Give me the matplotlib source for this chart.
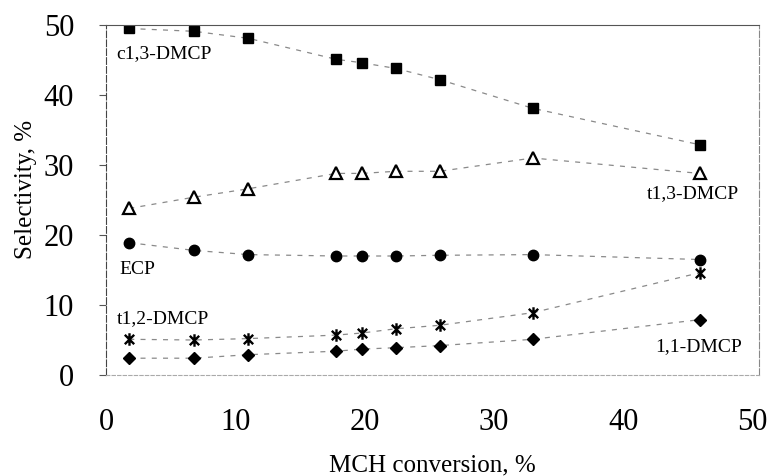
import numpy as np
import matplotlib
matplotlib.use("Agg")
import matplotlib.pyplot as plt
from matplotlib.path import Path

plt.rcParams['font.family'] = ['Liberation Serif', 'DejaVu Serif']

# MCH conversion, %
conversion = [1.8, 6.8, 11.0, 17.8, 19.8, 22.4, 25.8, 33.0, 45.9]

# selectivity, % for each product
c13_dmcp = [49.5, 49.1, 48.1, 45.1, 44.6, 43.8, 42.2, 38.1, 32.9]
t13_dmcp = [23.8, 25.4, 26.6, 28.8, 28.8, 29.1, 29.1, 31.0, 28.8]
ecp = [18.9, 17.8, 17.2, 17.0, 17.0, 17.0, 17.1, 17.2, 16.5]
t12_dmcp = [5.1, 5.0, 5.2, 5.7, 6.0, 6.6, 7.1, 8.9, 14.6]
dmcp11 = [2.4, 2.4, 2.9, 3.4, 3.7, 3.9, 4.2, 5.1, 7.9]

labels = ['c1,3-DMCP', 't1,3-DMCP', 'ECP', 't1,2-DMCP', '1,1-DMCP']
label_pos = [(0.8, 45.9), (41.8, 25.9), (1.0, 15.1), (0.8, 8.1), (42.5, 4.1)]

# X with a vertical bar, like the spreadsheet star marker
star = Path([(0, -1), (0, 1), (-0.75, -0.75), (0.75, 0.75), (-0.75, 0.75), (0.75, -0.75)],
            [Path.MOVETO, Path.LINETO] * 3)


def main():
    fig = plt.figure(figsize=(7.78, 4.76), dpi=100)
    ax = fig.add_axes([106 / 778, 1 - 375 / 476, (759 - 106) / 778, 350 / 476])

    line_kw = dict(color='#8a8a8a', lw=0.9, dashes=(4, 5))
    ax.plot(conversion, c13_dmcp, marker='s', ms=7.5, mfc='black', mec='black', **line_kw)
    ax.plot(conversion, t13_dmcp, marker='^', ms=8, mfc='white', mec='black', mew=1.6, **line_kw)
    ax.plot(conversion, ecp, marker='o', ms=7.5, mfc='black', mec='black', **line_kw)
    ax.plot(conversion, t12_dmcp, marker=star, ms=9, mec='black', mew=1.7, **line_kw)
    ax.plot(conversion, dmcp11, marker='D', ms=6.5, mfc='black', mec='black', **line_kw)

    for txt, (x, y) in zip(labels, label_pos):
        ax.text(x, y, txt, fontsize=14, ha='left', va='center')

    ax.set_xlim(0, 50.5)
    ax.set_ylim(0, 50)
    ax.set_xticks([0, 10, 20, 30, 40, 50])
    ax.set_yticks([0, 10, 20, 30, 40, 50])
    ax.tick_params(axis='x', length=0, pad=24, labelsize=22)
    ax.tick_params(axis='y', length=5, width=0.8, color='#555555', pad=18, labelsize=22)

    ax.set_xlabel('MCH conversion, %', fontsize=18, labelpad=12)
    ax.set_ylabel('Selectivity, %', fontsize=18)
    ax.yaxis.set_label_coords(-0.105, 0.53)

    ax.spines['left'].set(color='#444444', lw=0.8, linestyle=(0, (6, 2)))
    ax.spines['top'].set(color='#555555', lw=0.8)
    ax.spines['right'].set(color='#888888', lw=0.8, linestyle=(0, (6, 2)))
    ax.spines['bottom'].set(color='#aaaaaa', lw=0.8, linestyle=(0, (3, 2)))

    fig.savefig('out.png', dpi=100)


if __name__ == "__main__":
    main()
